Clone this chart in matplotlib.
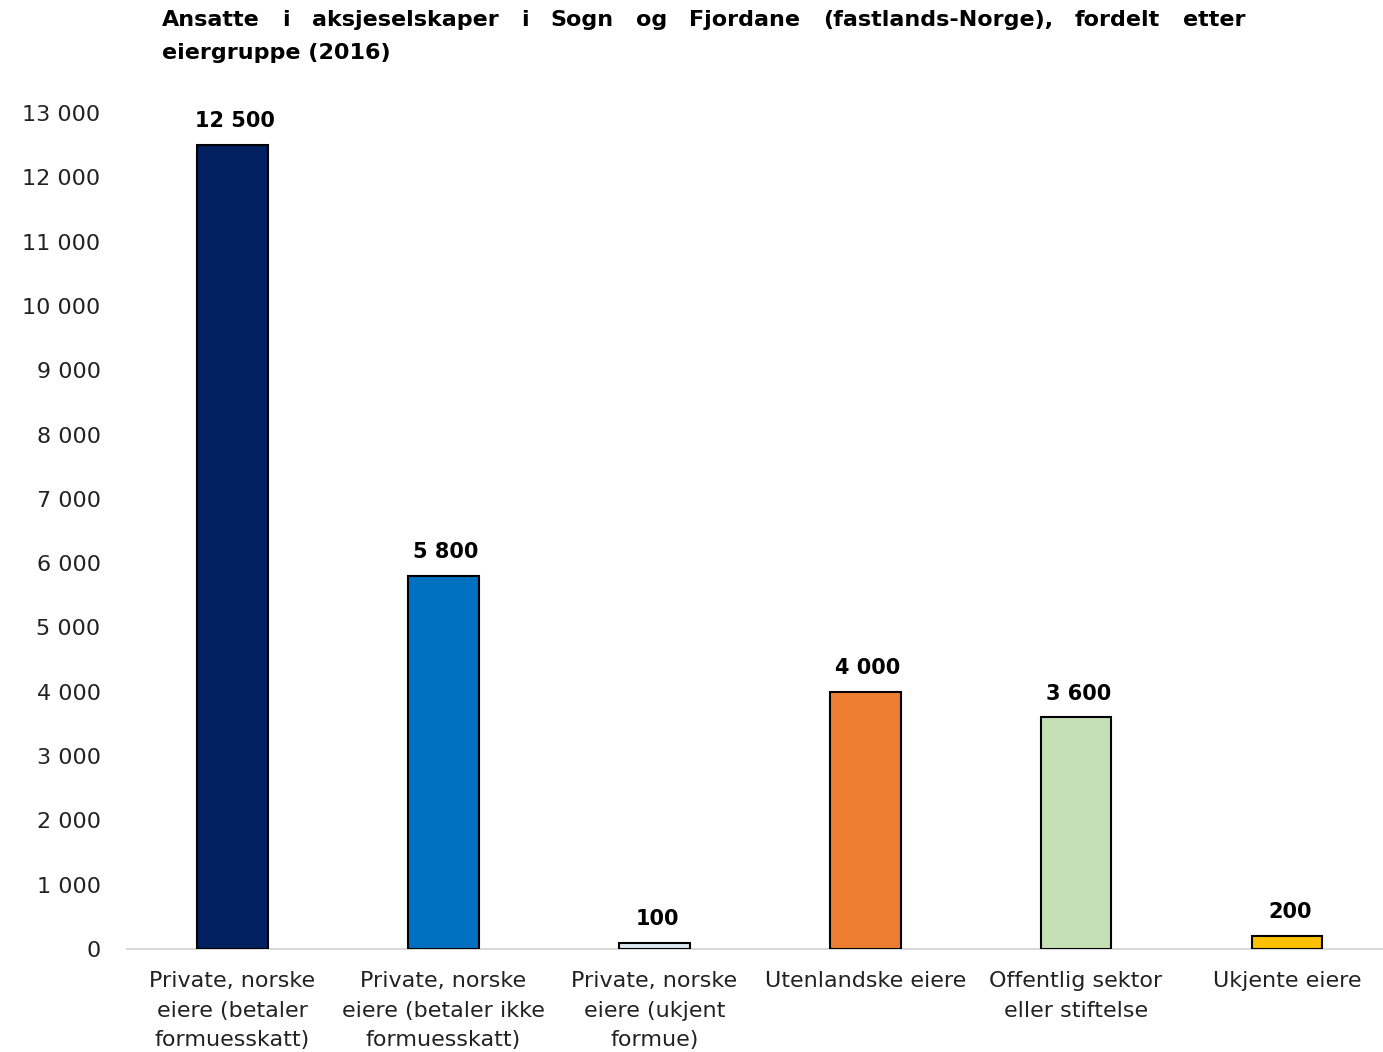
import matplotlib.pyplot as plt
from matplotlib.ticker import FuncFormatter

plt.rcParams['font.family'] = ['DejaVu Sans']

categories = [
    "Private, norske\neiere (betaler\nformuesskatt)",
    "Private, norske\neiere (betaler ikke\nformuesskatt)",
    "Private, norske\neiere (ukjent\nformue)",
    "Utenlandske eiere",
    "Offentlig sektor\neller stiftelse",
    "Ukjente eiere",
]
values = [12500, 5800, 100, 4000, 3600, 200]
value_labels = ["12 500", "5 800", "100", "4 000", "3 600", "200"]
colors = ["#002060", "#0070C0", "#DCE6F2", "#ED7D31", "#C5E0B4", "#FFC000"]

title_lines = [
    "Ansatte i aksjeselskaper i Sogn og Fjordane (fastlands-Norge), fordelt etter",
    "eiergruppe (2016)",
]

W, H = 1383, 1052
fig = plt.figure(figsize=(W / 100, H / 100), dpi=100)
ax = fig.add_axes([127 / W, 103 / H, (W - 127) / W, 836 / H])

x = range(len(values))
ax.bar(x, values, width=0.335, color=colors, edgecolor="black", linewidth=1.5, zorder=3)

for i, (v, lab) in enumerate(zip(values, value_labels)):
    ax.annotate(lab, (i, v), xytext=(2, 10), textcoords="offset points",
                ha="center", va="bottom", fontsize=15, fontweight="bold")

ax.set_xlim(-0.5, 5.455)
ax.set_ylim(0, 13000)
ax.set_yticks(range(0, 13001, 1000))
ax.yaxis.set_major_formatter(FuncFormatter(lambda v, p: f"{int(v):,}".replace(",", " ")))
ax.set_xticks(list(x))
ax.set_xticklabels(categories, fontsize=16, linespacing=1.6, color="#222222")
ax.tick_params(axis="y", length=0, pad=19, labelsize=16, labelcolor="#222222")
ax.tick_params(axis="x", length=0, pad=16)

for s in ["top", "right", "left"]:
    ax.spines[s].set_visible(False)
ax.spines["bottom"].set_color("#D9D9D9")
ax.spines["bottom"].set_linewidth(1.5)

# justified title, first line spread from x=162 to x=1245
fig.canvas.draw()
renderer = fig.canvas.get_renderer()
x0, x1 = 162 / W, 1245 / W
words = title_lines[0].split(" ")
objs = [fig.text(0, 1 - 26 / H, w, fontsize=16, fontweight="bold", va="baseline") for w in words]
widths = [o.get_window_extent(renderer).width / W for o in objs]
gap = (x1 - x0 - sum(widths)) / (len(words) - 1)
pos = x0
for o, wd in zip(objs, widths):
    o.set_x(pos)
    pos += wd + gap
fig.text(x0, 1 - 59 / H, title_lines[1], fontsize=16, fontweight="bold", va="baseline")

fig.savefig("out.png", dpi=100)
